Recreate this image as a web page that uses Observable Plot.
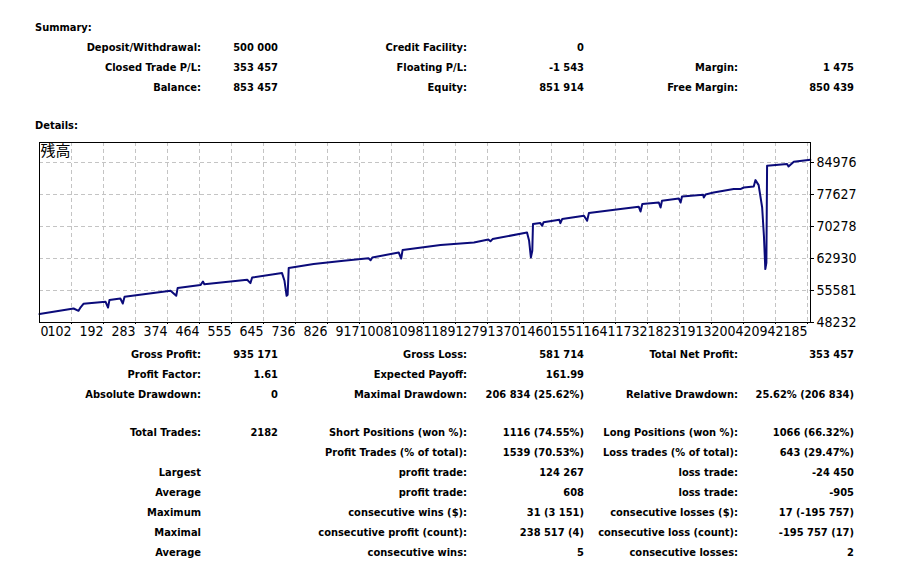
<!DOCTYPE html>
<html>
<head>
<meta charset="utf-8">
<script src="https://cdn.jsdelivr.net/npm/d3@7"></script>
<script src="https://cdn.jsdelivr.net/npm/@observablehq/plot@0.6"></script>
<style>
  html, body { margin: 0; padding: 0; background: #fff; }
  #page { position: relative; width: 901px; height: 562px; overflow: hidden; background: #fff; }
  .t { position: absolute; white-space: nowrap; font-family: "DejaVu Sans Condensed", "DejaVu Sans", sans-serif; font-stretch: condensed; font-weight: bold; font-size: 11px; line-height: 14px; height: 14px; color: #000; }
  #chart { position: absolute; left: 0; top: 136px; }
</style>
</head>
<body>
<div id="page"><div id="chart"></div></div>
<script>
// ---- equity curve (trade number, balance as labelled on the chart) ----
const tradeIndex = [0, 97, 111, 117, 125, 188, 195, 199, 230, 237, 242, 373, 389, 393, 458, 465, 469, 591, 600, 605,
  690, 697, 703, 706, 709, 780, 865, 936, 942, 947, 1022, 1029, 1033, 1141, 1236, 1277, 1283, 1289, 1387, 1393,
  1398, 1402, 1404, 1425, 1430, 1434, 1479, 1482, 1487, 1549, 1558, 1563, 1653, 1705, 1710, 1715, 1762, 1767, 1771,
  1819, 1824, 1828, 1888, 1890, 1895, 1918, 1975, 1994, 2004, 2032, 2037, 2046, 2056, 2061, 2065, 2068, 2070, 2127,
  2131, 2146, 2193];
const balance = [50161, 51447, 50919, 51723, 52527, 52986, 51677, 53376, 53744, 52595, 54134, 55512, 54364, 56132, 56821, 57648, 57005, 58038, 57280, 58566,
  59577, 57808, 54364, 54593, 60725, 61644, 62401, 62975, 62516, 63159, 64308, 62930, 64859, 66007, 66604, 67270, 66879, 67385, 68901, 66994,
  63159, 64698, 70829, 71059, 70439, 71243, 71817, 71059, 71978, 72736, 71587, 73356, 74275, 74803, 73723, 75423, 75790, 74642, 76181,
  76709, 75790, 77168, 77559, 76938, 77627, 78087, 78867, 78867, 79235, 79464, 80934, 79786, 74642, 68143, 60495, 61942, 84219, 84609,
  84057, 85137, 85596];

// axis tick labels
const yTickLabels = [48232, 55581, 62930, 70278, 77627, 84976];
const xTickLabels = ["0", "102", "192", "283", "374", "464", "555", "645", "736", "826", "917", "1008", "1098",
  "1189", "1279", "1370", "1460", "1551", "1641", "1732", "1823", "1913", "2004", "2094", "2185"];
const chartTitle = "残高";

// ---- summary / details tables ----
const summaryRows = [
  ["Deposit/Withdrawal:", "500 000", "Credit Facility:", "0", "", ""],
  ["Closed Trade P/L:", "353 457", "Floating P/L:", "-1 543", "Margin:", "1 475"],
  ["Balance:", "853 457", "Equity:", "851 914", "Free Margin:", "850 439"]
];
const detailRows1 = [
  ["Gross Profit:", "935 171", "Gross Loss:", "581 714", "Total Net Profit:", "353 457"],
  ["Profit Factor:", "1.61", "Expected Payoff:", "161.99", "", ""],
  ["Absolute Drawdown:", "0", "Maximal Drawdown:", "206 834 (25.62%)", "Relative Drawdown:", "25.62% (206 834)"]
];
const detailRows2 = [
  ["Total Trades:", "2182", "Short Positions (won %):", "1116 (74.55%)", "Long Positions (won %):", "1066 (66.32%)"],
  ["", "", "Profit Trades (% of total):", "1539 (70.53%)", "Loss trades (% of total):", "643 (29.47%)"],
  ["Largest", "", "profit trade:", "124 267", "loss trade:", "-24 450"],
  ["Average", "", "profit trade:", "608", "loss trade:", "-905"],
  ["Maximum", "", "consecutive wins ($):", "31 (3 151)", "consecutive losses ($):", "17 (-195 757)"],
  ["Maximal", "", "consecutive profit (count):", "238 517 (4)", "consecutive loss (count):", "-195 757 (17)"],
  ["Average", "", "consecutive wins:", "5", "consecutive losses:", "2"]
];

// ---- layout helpers ----
const page = document.getElementById("page");
const colRight = [201, 278, 467, 584, 738, 854];
function put(text, x, yc, align) {
  if (!text) return;
  const d = document.createElement("div");
  d.className = "t";
  d.textContent = text;
  d.style.top = (yc - 6.5) + "px";
  if (align === "left") d.style.left = x + "px";
  else d.style.right = (901 - x) + "px";
  page.appendChild(d);
}
function rows(list, y0, step) {
  list.forEach((r, i) => r.forEach((c, j) => put(c, colRight[j], y0 + i * step, "right")));
}
put("Summary:", 35, 27, "left");
rows(summaryRows, 47, 20);
put("Details:", 35, 125, "left");
rows(detailRows1, 354, 20);
rows(detailRows2, 432, 20);

// ---- chart ----
const data = tradeIndex.map((t, i) => ({t, v: balance[i]}));
const tMax = 2185;
const xTickPos = xTickLabels.map((_, k) => k * tMax / 24);
const yTop = yTickLabels[0] + (yTickLabels[5] - yTickLabels[0]) * 180 / 160;

const gridStyle = {stroke: "#c4c4c4", strokeOpacity: 1, strokeDasharray: "4,3"};
const chart = Plot.plot({
  width: 901,
  height: 208,
  marginLeft: 39,
  marginRight: 91,
  marginTop: 6,
  marginBottom: 22,
  x: {domain: [0, tMax * 771 / 768]},
  y: {domain: [yTickLabels[0], yTop]},
  style: {fontFamily: "'DejaVu Sans Condensed', 'DejaVu Sans', sans-serif", fontStretch: "condensed", fontSize: "14px", color: "#000", background: "#fff"},
  marks: [
    Plot.gridX(xTickPos.slice(1), gridStyle),
    Plot.gridY(yTickLabels.slice(1), gridStyle),
    Plot.line(data, {x: "t", y: "v", stroke: "#0b0b7a", strokeWidth: 2, curve: "linear"}),
    Plot.frame({stroke: "#000", strokeWidth: 1}),
    Plot.text([chartTitle], {frameAnchor: "top-left", dx: 1, dy: 3, fontSize: 15, fontFamily: "'Noto Sans CJK JP', sans-serif", fill: "#000", lineAnchor: "top"}),
    Plot.axisY(yTickLabels, {anchor: "right", tickSize: 3, tickPadding: 3, tickFormat: d => String(d), label: null, fill: "#000", fontSize: 14}),
    Plot.axisX(xTickPos.slice(1), {anchor: "bottom", tickSize: 2, tickPadding: 2, textAnchor: "end", dx: 0, tickFormat: (d, i) => xTickLabels[i + 1], label: null, fill: "#000", fontSize: 14}),
    Plot.axisX([0], {anchor: "bottom", tickSize: 0, tickPadding: 4, textAnchor: "start", dx: 1, tickFormat: () => xTickLabels[0], label: null, fill: "#000", fontSize: 14})
  ]
});
document.getElementById("chart").appendChild(chart);
</script>
</body>
</html>
